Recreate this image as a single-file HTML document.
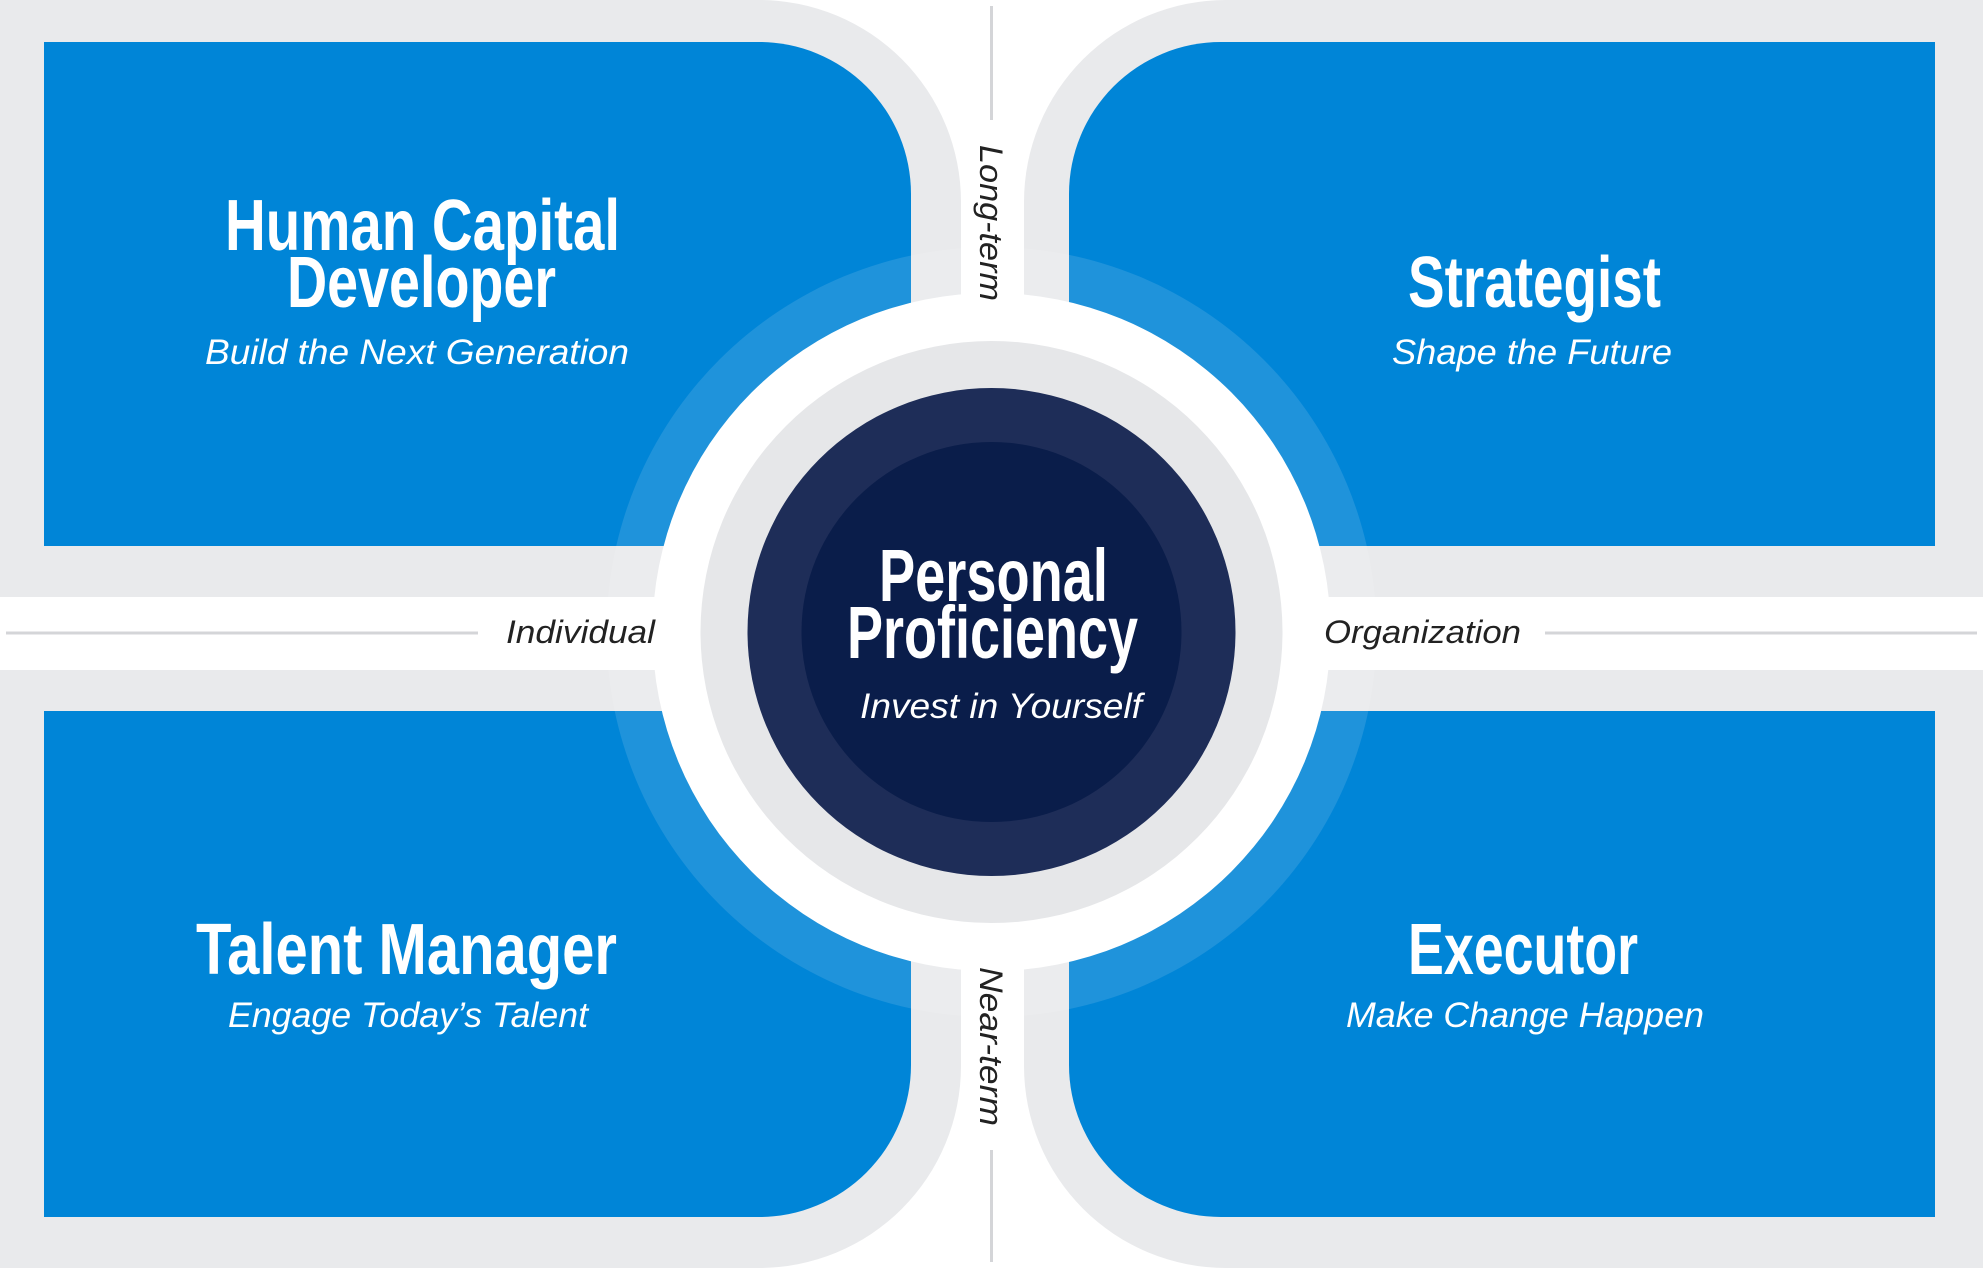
<!DOCTYPE html>
<html><head><meta charset="utf-8"><style>
html,body{margin:0;padding:0;background:#fff;}
svg{display:block;}
.t{font-family:"Liberation Sans Narrow","Liberation Sans",sans-serif;font-weight:bold;fill:#fff;}
.s{font-family:"Liberation Sans",sans-serif;font-style:italic;fill:#fff;}
.l{font-family:"Liberation Sans",sans-serif;font-style:italic;fill:#222;}
</style></head><body>
<svg width="1983" height="1268" viewBox="0 0 1983 1268" xmlns="http://www.w3.org/2000/svg">
<rect width="1983" height="1268" fill="#fff"/>
<!-- gray panels -->
<path d="M0 0 H759 A202 202 0 0 1 961 202 V597 H0 Z" fill="#e9eaec"/>
<path d="M1983 0 H1226 A202 202 0 0 0 1024 202 V597 H1983 Z" fill="#e9eaec"/>
<path d="M0 1268 H759 A202 202 0 0 0 961 1066 V670 H0 Z" fill="#e9eaec"/>
<path d="M1983 1268 H1226 A202 202 0 0 1 1024 1066 V670 H1983 Z" fill="#e9eaec"/>
<!-- blue boxes -->
<path d="M44 42 H759 A152 152 0 0 1 911 194 V546 H44 Z" fill="#0085d7"/>
<path d="M1935 42 H1221 A152 152 0 0 0 1069 194 V546 H1935 Z" fill="#0085d7"/>
<path d="M44 1217 H759 A152 152 0 0 0 911 1065 V711 H44 Z" fill="#0085d7"/>
<path d="M1935 1217 H1221 A152 152 0 0 1 1069 1065 V711 H1935 Z" fill="#0085d7"/>
<!-- light ring overlay -->
<circle cx="991.5" cy="632" r="385" fill="#fff" fill-opacity="0.12"/>
<!-- lines -->
<line x1="6" y1="633" x2="478" y2="633" stroke="#d4d5d8" stroke-width="3"/>
<line x1="1545" y1="633" x2="1977" y2="633" stroke="#d4d5d8" stroke-width="3"/>
<line x1="991.5" y1="6" x2="991.5" y2="120" stroke="#d4d5d8" stroke-width="3"/>
<line x1="991.5" y1="1150" x2="991.5" y2="1262" stroke="#d4d5d8" stroke-width="3"/>
<!-- center circles -->
<circle cx="991.5" cy="632" r="339" fill="#fff"/>
<circle cx="991.5" cy="632" r="291" fill="#e6e7e9"/>
<circle cx="991.5" cy="632" r="244" fill="#1e2d58"/>
<circle cx="991.5" cy="632" r="190" fill="#0a1d4a"/>
<!-- titles -->
<text class="t" x="225" y="250" font-size="72" textLength="395" lengthAdjust="spacingAndGlyphs">Human Capital</text>
<text class="t" x="287" y="307" font-size="72" textLength="269" lengthAdjust="spacingAndGlyphs">Developer</text>
<text class="s" x="205" y="364" font-size="35" textLength="424" lengthAdjust="spacingAndGlyphs">Build the Next Generation</text>
<text class="t" x="1408" y="307" font-size="72" textLength="253" lengthAdjust="spacingAndGlyphs">Strategist</text>
<text class="s" x="1392" y="364" font-size="35" textLength="280" lengthAdjust="spacingAndGlyphs">Shape the Future</text>
<text class="t" x="196" y="974" font-size="72" textLength="421" lengthAdjust="spacingAndGlyphs">Talent Manager</text>
<text class="s" x="228" y="1027" font-size="35" textLength="360" lengthAdjust="spacingAndGlyphs">Engage Today’s Talent</text>
<text class="t" x="1408" y="974" font-size="72" textLength="230" lengthAdjust="spacingAndGlyphs">Executor</text>
<text class="s" x="1346" y="1027" font-size="35" textLength="358" lengthAdjust="spacingAndGlyphs">Make Change Happen</text>
<text class="t" x="879" y="601" font-size="74" textLength="229" lengthAdjust="spacingAndGlyphs">Personal</text>
<text class="t" x="847" y="658" font-size="74" textLength="291" lengthAdjust="spacingAndGlyphs">Proficiency</text>
<text class="s" x="860" y="718" font-size="35" textLength="282" lengthAdjust="spacingAndGlyphs">Invest in Yourself</text>
<!-- axis labels -->
<text class="l" x="506" y="643" font-size="32" textLength="149" lengthAdjust="spacingAndGlyphs">Individual</text>
<text class="l" x="1324" y="643" font-size="32" textLength="197" lengthAdjust="spacingAndGlyphs">Organization</text>
<text class="l" font-size="32" textLength="156" lengthAdjust="spacingAndGlyphs" transform="translate(980 145) rotate(90)">Long-term</text>
<text class="l" font-size="32" textLength="159" lengthAdjust="spacingAndGlyphs" transform="translate(980 967) rotate(90)">Near-term</text>
</svg>
</body></html>
